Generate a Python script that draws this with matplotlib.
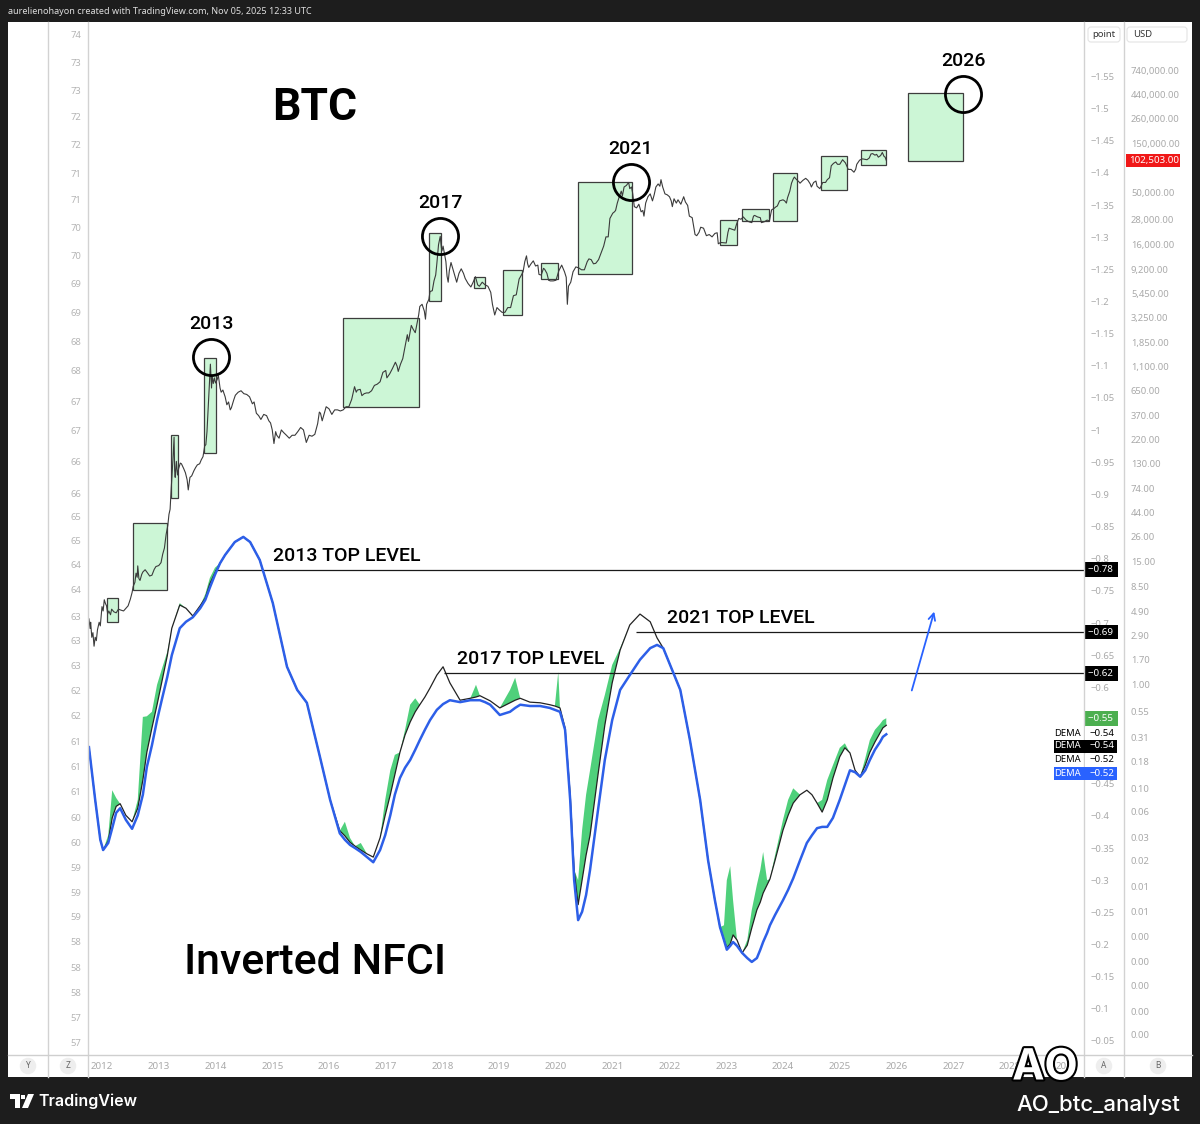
import matplotlib
matplotlib.use("Agg")
import matplotlib.pyplot as plt
import matplotlib.transforms as mtransforms
import matplotlib.patheffects as pe
from matplotlib.patches import Rectangle, FancyBboxPatch, Polygon
from matplotlib.lines import Line2D
from matplotlib.ticker import NullLocator
import numpy as np

plt.rcParams['font.family'] = ['Noto Sans', 'DejaVu Sans']

# ---------------- data ----------------
btc_dates = [
    2011.77, 2011.79, 2011.80, 2011.82, 2011.84, 2011.86, 2011.88, 2011.90, 2011.92, 2011.95, 2011.97,
    2012.00, 2012.02, 2012.04, 2012.06, 2012.08, 2012.10, 2012.12, 2012.15, 2012.17, 2012.21, 2012.25,
    2012.29, 2012.33, 2012.38, 2012.42, 2012.46, 2012.50, 2012.53, 2012.55, 2012.58, 2012.60, 2012.62,
    2012.63, 2012.65, 2012.67, 2012.70, 2012.72, 2012.76, 2012.80, 2012.84, 2012.88, 2012.92, 2012.95,
    2013.00, 2013.04, 2013.07, 2013.10, 2013.13, 2013.16, 2013.18, 2013.20, 2013.22, 2013.25, 2013.27,
    2013.28, 2013.29, 2013.31, 2013.33, 2013.35, 2013.38, 2013.40, 2013.44, 2013.47, 2013.50, 2013.52,
    2013.55, 2013.58, 2013.62, 2013.65, 2013.68, 2013.72, 2013.75, 2013.78, 2013.81, 2013.83, 2013.85,
    2013.87, 2013.89, 2013.91, 2013.93, 2013.94, 2013.96, 2013.98,
    2014.00, 2014.03, 2014.05, 2014.08, 2014.10, 2014.13, 2014.17, 2014.20, 2014.23, 2014.26, 2014.28,
    2014.32, 2014.35, 2014.40, 2014.45, 2014.50, 2014.55, 2014.60, 2014.65, 2014.68, 2014.72, 2014.76,
    2014.80, 2014.85, 2014.90, 2014.94, 2014.97,
    2015.00, 2015.03, 2015.06, 2015.08, 2015.12, 2015.16, 2015.20, 2015.25, 2015.30, 2015.35, 2015.40,
    2015.45, 2015.50, 2015.55, 2015.60, 2015.65, 2015.70, 2015.75, 2015.80, 2015.83, 2015.85, 2015.88,
    2015.90, 2015.95,
    2016.00, 2016.03, 2016.05, 2016.10, 2016.15, 2016.20, 2016.25, 2016.30, 2016.35, 2016.40, 2016.45,
    2016.48, 2016.50, 2016.55, 2016.58, 2016.62, 2016.66, 2016.70, 2016.75, 2016.80, 2016.85, 2016.90,
    2016.95,
    2017.00, 2017.02, 2017.07, 2017.12, 2017.17, 2017.20, 2017.22, 2017.26, 2017.30, 2017.34, 2017.38,
    2017.40, 2017.45, 2017.48, 2017.52, 2017.55, 2017.58, 2017.60, 2017.64, 2017.68, 2017.70, 2017.72,
    2017.76, 2017.78, 2017.82, 2017.85, 2017.88, 2017.90, 2017.93, 2017.96, 2017.98, 2017.99,
    2018.01, 2018.03, 2018.06, 2018.08, 2018.10, 2018.12, 2018.15, 2018.18, 2018.22, 2018.25, 2018.29,
    2018.33, 2018.37, 2018.40, 2018.45, 2018.50, 2018.54, 2018.58, 2018.62, 2018.65, 2018.70, 2018.75,
    2018.80, 2018.85, 2018.88, 2018.92, 2018.96,
    2019.00, 2019.05, 2019.10, 2019.15, 2019.20, 2019.25, 2019.30, 2019.35, 2019.38, 2019.42, 2019.45,
    2019.48, 2019.50, 2019.52, 2019.56, 2019.60, 2019.64, 2019.68, 2019.70, 2019.74, 2019.78, 2019.80,
    2019.84, 2019.87, 2019.90, 2019.95,
    2020.00, 2020.05, 2020.10, 2020.15, 2020.18, 2020.20, 2020.22, 2020.26, 2020.30, 2020.35, 2020.40,
    2020.45, 2020.50, 2020.55, 2020.58, 2020.62, 2020.66, 2020.70, 2020.75, 2020.80, 2020.84, 2020.88,
    2020.92, 2020.95,
    2021.00, 2021.03, 2021.05, 2021.08, 2021.12, 2021.15, 2021.17, 2021.20, 2021.24, 2021.28, 2021.30,
    2021.33, 2021.35, 2021.38, 2021.42, 2021.46, 2021.50, 2021.53, 2021.55, 2021.58, 2021.62, 2021.66,
    2021.70, 2021.73, 2021.76, 2021.80, 2021.83, 2021.85, 2021.88, 2021.92, 2021.96,
    2022.00, 2022.03, 2022.05, 2022.08, 2022.12, 2022.15, 2022.20, 2022.25, 2022.28, 2022.32, 2022.35,
    2022.40, 2022.45, 2022.48, 2022.52, 2022.55, 2022.60, 2022.65, 2022.70, 2022.75, 2022.80, 2022.84,
    2022.86, 2022.90, 2022.95,
    2023.00, 2023.03, 2023.05, 2023.10, 2023.15, 2023.18, 2023.22, 2023.26, 2023.30, 2023.35, 2023.40,
    2023.45, 2023.48, 2023.50, 2023.55, 2023.60, 2023.62, 2023.67, 2023.72, 2023.76, 2023.80, 2023.84,
    2023.88, 2023.90, 2023.94,
    2024.00, 2024.03, 2024.06, 2024.08, 2024.12, 2024.15, 2024.18, 2024.20, 2024.24, 2024.28, 2024.30,
    2024.35, 2024.40, 2024.44, 2024.48, 2024.50, 2024.54, 2024.58, 2024.60, 2024.65, 2024.70, 2024.75,
    2024.78, 2024.82, 2024.85, 2024.89, 2024.93, 2024.96,
    2025.00, 2025.05, 2025.10, 2025.15, 2025.20, 2025.25, 2025.28, 2025.30, 2025.35, 2025.40, 2025.44,
    2025.48, 2025.52, 2025.55, 2025.58, 2025.62, 2025.65, 2025.68, 2025.72, 2025.75, 2025.78, 2025.80,
    2025.82]
btc_prices = [
    4.2, 3.4, 3.9, 2.8, 3.1, 2.3, 2.8, 2.6, 3.3, 3.9, 3.6,
    5.5, 5.0, 6.4, 5.9, 5.6, 4.7, 5.0, 4.6, 5.2, 4.9, 4.8,
    5.2, 5.1, 5.0, 5.3, 5.6, 6.5, 7.5, 8.6, 9.4, 11.5, 10.5,
    13.5, 10.2, 9.8, 11.2, 11.8, 12.4, 11.6, 10.8, 11.0, 12.5, 13.3,
    13.6, 14.5, 17.5, 20, 27, 33, 42, 47, 75, 140, 230,
    110, 95, 135, 100, 115, 130, 128, 115, 105, 90, 72,
    95, 98, 110, 118, 125, 128, 140, 150, 190, 195, 260,
    420, 700, 1150, 680, 900, 750, 850,
    760, 820, 900, 680, 620, 650, 560, 470, 500, 420, 440,
    520, 580, 620, 640, 600, 590, 560, 480, 500, 390, 370,
    340, 380, 370, 330, 315,
    270, 200, 260, 240, 225, 270, 255, 240, 225, 240, 240,
    260, 285, 270, 205, 240, 235, 245, 310, 400, 390, 330,
    360, 450,
    430, 400, 380, 420, 420, 410, 420, 450, 450, 530, 700,
    620, 650, 660, 575, 600, 610, 610, 640, 720, 740, 780,
    960,
    1000, 850, 930, 1050, 1200, 1100, 980, 1150, 1300, 1700, 2200,
    1900, 2700, 2500, 2300, 2800, 3400, 4100, 4300, 3700, 3100, 4300,
    4800, 5700, 5800, 7200, 8200, 10500, 16000, 19200, 15000, 14000,
    15500, 13500, 11000, 8000, 7000, 9000, 10800, 9500, 8000, 7000, 8500,
    9400, 8500, 7600, 6800, 6300, 7000, 7900, 6600, 6400, 7000, 6600,
    6400, 5600, 4300, 3400, 4000,
    3800, 3600, 3600, 4000, 4000, 5200, 5300, 7500, 8000, 8800, 11000,
    12500, 10500, 9700, 10500, 11200, 10000, 10200, 8300, 8200, 9500, 9300,
    8500, 7300, 7200, 7200,
    7300, 9000, 10200, 8800, 7800, 4300, 6400, 7000, 8800, 9800, 9600,
    9200, 9200, 11000, 11700, 11500, 10500, 10600, 11500, 13600, 15500, 19000,
    19000, 28500,
    32000, 33000, 34000, 40000, 47000, 52000, 47000, 57000, 59000, 63000, 55000,
    57000, 50000, 37000, 36000, 39000, 33000, 34000, 30000, 40000, 46000, 49000,
    42000, 48000, 57000, 61000, 58000, 67000, 57000, 49000, 48000,
    46000, 42000, 37000, 44000, 40000, 43000, 39000, 46000, 41000, 38000, 30000,
    29000, 20000, 19500, 21000, 23500, 23000, 19500, 20000, 19000, 20500, 20800,
    16300, 16800, 16700,
    16600, 21000, 23000, 22500, 22000, 25000, 28500, 28000, 29500, 27500, 26500,
    26000, 30000, 30500, 29500, 29000, 26000, 26500, 27500, 27000, 34500, 35500,
    37000, 37500, 42000,
    43000, 42000, 40000, 45000, 52000, 62000, 68000, 71000, 67000, 64000, 62000,
    66000, 69000, 66000, 61000, 57000, 63000, 65000, 58000, 55000, 63000, 63000,
    67000, 70000, 91000, 96000, 99000, 94000,
    94000, 104000, 97000, 84000, 84000, 79000, 84000, 94000, 103000, 106000, 105000,
    104000, 108000, 118000, 119000, 115000, 117000, 110000, 114000, 122000, 112000, 110000,
    102503]
last_price = 102503.00

box_start = [2012.09, 2012.55, 2013.22, 2013.80, 2016.25, 2017.76, 2018.56, 2019.07, 2019.74, 2020.39,
             2022.89, 2023.28, 2023.82, 2024.67, 2025.37, 2026.20]
box_end = [2012.28, 2013.15, 2013.34, 2014.01, 2017.59, 2017.97, 2018.75, 2019.40, 2020.04, 2021.34,
           2023.19, 2023.75, 2024.25, 2025.13, 2025.82, 2027.17]
box_low = [3.92, 7.9, 60, 162, 448, 4620, 6150, 3400, 7510, 8380,
           15900, 27000, 27000, 53400, 92600, 101000]
box_high = [6.65, 34.7, 241, 1318, 3180, 20700, 7850, 9160, 10700, 63700,
            27600, 35100, 77600, 113000, 129000, 452000]

circle_dates = [2013.92, 2017.956, 2021.32, 2027.172]
circle_prices = [1346, 19370, 63700, 443000]
circle_labels = ["2013", "2017", "2021", "2026"]

nfci_dates = [2011.77, 2011.88, 2011.97, 2012.02, 2012.11, 2012.18, 2012.25, 2012.32, 2012.42, 2012.53,
              2012.63, 2012.72, 2012.79, 2012.88, 2012.97, 2013.06, 2013.15, 2013.23, 2013.37, 2013.48,
              2013.60, 2013.73, 2013.82, 2013.90, 2013.99, 2014.08, 2014.17, 2014.34, 2014.49, 2014.61,
              2014.78, 2015.01, 2015.26, 2015.44, 2015.61, 2015.84, 2016.02, 2016.19, 2016.28, 2016.37,
              2016.46, 2016.56, 2016.67, 2016.78, 2016.90, 2016.99, 2017.08, 2017.16, 2017.25, 2017.34,
              2017.43, 2017.52, 2017.60, 2017.69, 2017.78, 2017.90, 2018.01, 2018.13, 2018.31, 2018.49,
              2018.59, 2018.66, 2018.75, 2018.84, 2019.01, 2019.19, 2019.28, 2019.37, 2019.54, 2019.72,
              2019.89, 2019.98, 2020.04, 2020.07, 2020.16, 2020.25, 2020.32, 2020.39, 2020.46, 2020.53,
              2020.60, 2020.67, 2020.74, 2020.86, 2020.99, 2021.13, 2021.30, 2021.48, 2021.66, 2021.78,
              2021.89, 2022.01, 2022.19, 2022.36, 2022.54, 2022.68, 2022.80, 2022.89, 2022.96, 2023.01,
              2023.07, 2023.12, 2023.19, 2023.28, 2023.37, 2023.45, 2023.54, 2023.60, 2023.65, 2023.72,
              2023.77, 2023.86, 2024.00, 2024.09, 2024.18, 2024.30, 2024.42, 2024.51, 2024.60, 2024.69,
              2024.78, 2024.88, 2025.00, 2025.09, 2025.18, 2025.27, 2025.36, 2025.45, 2025.53, 2025.62,
              2025.71, 2025.76, 2025.82]
dema_slow = [-0.507, -0.425, -0.363, -0.347, -0.358, -0.381, -0.405, -0.412, -0.394, -0.380,
             -0.401, -0.433, -0.476, -0.510, -0.549, -0.583, -0.616, -0.650, -0.692, -0.702,
             -0.709, -0.723, -0.736, -0.755, -0.775, -0.793, -0.806, -0.826, -0.834, -0.826,
             -0.798, -0.731, -0.632, -0.596, -0.576, -0.492, -0.425, -0.373, -0.363, -0.355,
             -0.350, -0.344, -0.336, -0.328, -0.347, -0.370, -0.401, -0.433, -0.459, -0.475,
             -0.487, -0.503, -0.518, -0.534, -0.549, -0.565, -0.574, -0.580, -0.577, -0.580,
             -0.580, -0.580, -0.577, -0.573, -0.557, -0.562, -0.568, -0.573, -0.571, -0.571,
             -0.568, -0.565, -0.563, -0.562, -0.534, -0.425, -0.300, -0.238, -0.251, -0.277,
             -0.316, -0.363, -0.409, -0.487, -0.549, -0.596, -0.619, -0.643, -0.661, -0.666,
             -0.661, -0.635, -0.596, -0.518, -0.425, -0.331, -0.269, -0.227, -0.207, -0.192,
             -0.198, -0.204, -0.198, -0.187, -0.179, -0.173, -0.179, -0.192, -0.204, -0.218,
             -0.230, -0.246, -0.269, -0.285, -0.303, -0.331, -0.358, -0.370, -0.381, -0.383,
             -0.383, -0.397, -0.425, -0.448, -0.471, -0.468, -0.461, -0.471, -0.487, -0.503,
             -0.515, -0.523, -0.527]
dema_fast = [-0.507, -0.425, -0.363, -0.347, -0.361, -0.397, -0.415, -0.419, -0.401, -0.391,
             -0.412, -0.456, -0.499, -0.537, -0.573, -0.611, -0.649, -0.692, -0.728, -0.723,
             -0.711, -0.727, -0.739, -0.761, -0.778, -0.793, -0.806, -0.826, -0.834, -0.826,
             -0.798, -0.731, -0.632, -0.596, -0.576, -0.492, -0.425, -0.377, -0.369, -0.359,
             -0.353, -0.347, -0.341, -0.336, -0.366, -0.401, -0.433, -0.464, -0.499, -0.526,
             -0.546, -0.562, -0.573, -0.585, -0.599, -0.619, -0.632, -0.607, -0.580, -0.583,
             -0.585, -0.587, -0.583, -0.579, -0.568, -0.576, -0.580, -0.583, -0.577, -0.576,
             -0.573, -0.571, -0.569, -0.568, -0.537, -0.433, -0.316, -0.262, -0.300, -0.339,
             -0.370, -0.417, -0.464, -0.541, -0.607, -0.658, -0.697, -0.714, -0.702, -0.677,
             -0.661, -0.635, -0.596, -0.518, -0.425, -0.331, -0.269, -0.227, -0.207, -0.195,
             -0.201, -0.215, -0.207, -0.187, -0.199, -0.226, -0.254, -0.266, -0.280, -0.293,
             -0.302, -0.331, -0.378, -0.401, -0.420, -0.433, -0.440, -0.433, -0.420, -0.406,
             -0.425, -0.459, -0.492, -0.506, -0.498, -0.471, -0.461, -0.479, -0.499, -0.515,
             -0.529, -0.537, -0.541]
nfci_fill_top = [-0.507, -0.425, -0.363, -0.347, -0.370, -0.440, -0.428, -0.419, -0.401, -0.391,
                 -0.425, -0.554, -0.555, -0.562, -0.604, -0.630, -0.655, -0.692, -0.731, -0.723,
                 -0.711, -0.727, -0.745, -0.770, -0.786, -0.793, -0.806, -0.826, -0.834, -0.826,
                 -0.798, -0.731, -0.632, -0.596, -0.576, -0.492, -0.425, -0.377, -0.391, -0.366,
                 -0.353, -0.358, -0.341, -0.336, -0.366, -0.425, -0.471, -0.495, -0.499, -0.534,
                 -0.573, -0.583, -0.573, -0.585, -0.599, -0.619, -0.632, -0.607, -0.580, -0.583,
                 -0.604, -0.587, -0.583, -0.579, -0.568, -0.596, -0.615, -0.583, -0.577, -0.576,
                 -0.573, -0.571, -0.624, -0.568, -0.537, -0.433, -0.316, -0.300, -0.378, -0.433,
                 -0.471, -0.510, -0.549, -0.588, -0.635, -0.661, -0.697, -0.714, -0.702, -0.677,
                 -0.661, -0.635, -0.596, -0.518, -0.425, -0.331, -0.269, -0.227, -0.230, -0.300,
                 -0.322, -0.269, -0.207, -0.187, -0.207, -0.254, -0.293, -0.316, -0.344, -0.300,
                 -0.302, -0.339, -0.394, -0.425, -0.443, -0.433, -0.440, -0.433, -0.420, -0.425,
                 -0.456, -0.479, -0.506, -0.513, -0.498, -0.471, -0.461, -0.490, -0.518, -0.534,
                 -0.543, -0.549, -0.552]

level_values = [-0.783, -0.686, -0.622]
level_starts = [2013.99, 2021.41, 2018.03]
level_names = ["2013 TOP LEVEL", "2021 TOP LEVEL", "2017 TOP LEVEL"]
level_tags = ["\u22120.78", "\u22120.69", "\u22120.62"]

dema_tag_values = ["\u22120.54", "\u22120.54", "\u22120.52", "\u22120.52"]

year_ticks = list(range(2012, 2030))
nfci_ticks = [-1.55, -1.5, -1.45, -1.4, -1.35, -1.3, -1.25, -1.2, -1.15, -1.1, -1.05, -1.0,
              -0.95, -0.9, -0.85, -0.8, -0.75, -0.7, -0.65, -0.6, -0.45, -0.4, -0.35, -0.3,
              -0.25, -0.2, -0.15, -0.1, -0.05]
usd_ticks = [740000, 440000, 260000, 150000, 50000, 28000, 16000, 9200, 5450, 3250, 1850, 1100,
             650, 370, 220, 130, 74, 44, 26, 15, 8.5, 4.9, 2.9, 1.7, 1.0, 0.55, 0.31, 0.18, 0.10,
             0.06, 0.034, 0.0203, 0.0116, 0.0067, 0.0038, 0.0022, 0.0013, 0.00074, 0.00044]
left_ticks = [74.00, 73.53, 73.07, 72.62, 72.15, 71.67, 71.22, 70.76, 70.29, 69.82, 69.32, 68.83,
              68.34, 67.83, 67.33, 66.81, 66.28, 65.88, 65.49, 65.07, 64.65, 64.21, 63.79, 63.37,
              62.95, 62.53, 62.10, 61.68, 61.25, 60.82, 60.40, 59.98, 59.56, 59.14, 58.72, 58.28,
              57.86, 57.44, 57.02]
left_labels = ["74", "73", "73", "72", "72", "71", "71", "70", "70", "69", "69", "68", "68", "67",
               "67", "66", "66", "65", "65", "64", "64", "63", "63", "63", "62", "62", "61", "61",
               "61", "60", "60", "59", "59", "59", "58", "58", "58", "57", "57"]

# ---------------- figure ----------------
W, H = 1200, 1124
fig = plt.figure(figsize=(W / 100, H / 100), dpi=100)
fig.patch.set_facecolor('#1d1d1d')
PX = mtransforms.Affine2D().scale(1.0 / W, -1.0 / H).translate(0, 1) + fig.transFigure

GREY = '#a9a9a9'
fig.add_artist(Rectangle((8, 22), 1184, 1055, transform=PX, fc='white', ec='none', zorder=-5))

L, R, T, B = 88, 1084, 22, 1055
ax = fig.add_axes([L / W, 1 - B / H, (R - L) / W, (B - T) / H])
ax.set_facecolor('none')
for s in ax.spines.values():
    s.set_visible(False)
x0 = 2012 + (L - 102) / 56.75
x1 = 2012 + (R - 102) / 56.75
ax.set_xlim(x0, x1)
ax.set_yscale('log')
ax.set_ylim(10 ** ((684 - B) / 104.5), 10 ** ((684 - T) / 104.5))

ax_n = ax.twinx()
ax_n.set_facecolor('none')
for s in ax_n.spines.values():
    s.set_visible(False)
ax_n.set_ylim(-(0.05 + (1041 - B) / 643), -(0.05 + (1041 - T) / 643))

ax_l = ax.twinx()
ax_l.set_facecolor('none')
for s in ax_l.spines.values():
    s.set_visible(False)
ax_l.set_ylim(74 - (B - 35) / 59.35, 74 - (T - 35) / 59.35)
ax_l.yaxis.tick_left()
ax_l.set_yticks(left_ticks, labels=left_labels)
ax_l.tick_params(axis='y', length=0, pad=5, labelsize=6.8, labelcolor='#b5b5b5')

# x axis
ax.set_xticks(year_ticks, labels=[str(y) for y in year_ticks])
ax.tick_params(axis='x', length=0, pad=5, labelsize=7, labelcolor=GREY)

# price axis on the USD column (40 px to the right of the point column)
ax.yaxis.tick_right()
ax.spines['right'].set_position(('outward', 40 * 0.72))
ax.set_yticks(usd_ticks, labels=[f"{v:,.2f}" for v in usd_ticks])
ax.yaxis.set_minor_locator(NullLocator())
ax.tick_params(axis='y', which='both', length=0, pad=5, labelsize=6.8, labelcolor=GREY)

# point axis
ax_n.set_yticks(nfci_ticks, labels=["\u2212" + f"{abs(v):g}" for v in nfci_ticks])
ax_n.tick_params(axis='y', length=0, pad=5, labelsize=6.8, labelcolor=GREY)

# ---- BTC ----
for xs, xe, lo, hi in zip(box_start, box_end, box_low, box_high):
    ax.fill([xs, xe, xe, xs], [lo, lo, hi, hi], fc='#ccf6d6', ec='#3d3d3d', lw=0.9, zorder=1)
ax.plot(btc_dates, btc_prices, color='#3b3b3b', lw=0.8, zorder=2)
ax.plot(circle_dates, circle_prices, 'o', ms=26, mfc='none', mec='black', mew=2.0, zorder=3)
for d, p, lab in zip(circle_dates, circle_prices, circle_labels):
    ax.annotate(lab, (d, p), xytext=(0, 28), textcoords='offset pixels', ha='center', va='baseline',
                fontsize=14, family=['Roboto', 'DejaVu Sans'], fontweight='medium', color='black')

# ---- NFCI ----
nd = np.array(nfci_dates)
fast = np.array(dema_fast)
top = np.array(nfci_fill_top)
ax_n.fill_between(nd, fast, top, where=top < fast, interpolate=True, color='#4fd07b', lw=0, zorder=2)
ax_n.plot(nd, fast, color='#222222', lw=0.9, zorder=3)
ax_n.plot(nd, dema_slow, color='#2d5fe8', lw=1.8, zorder=4)

ax_n.hlines(level_values, level_starts, x1, colors='#1a1a1a', lw=0.9, zorder=3)
level_label_x = [2016.32, 2023.26, 2019.56]
for lx, v, name in zip(level_label_x, level_values, level_names):
    ax_n.annotate(name, (lx, v), xytext=(0, 9), textcoords='offset pixels', ha='center', va='baseline',
                  fontsize=14, family=['Roboto', 'DejaVu Sans'], fontweight='medium', color='black')

ax_n.annotate('', xy=(2026.678, -0.722), xytext=(2026.256, -0.591),
              arrowprops=dict(arrowstyle='->', color='#2962ff', lw=1.3, mutation_scale=12))

blend_n = mtransforms.blended_transform_factory(ax_n.transAxes, ax_n.transData)
for v, tg in zip(level_values, level_tags):
    ax_n.annotate(tg + ' ', (1.0, v), xycoords=blend_n, xytext=(4, 0), textcoords='offset pixels',
                  ha='left', va='center', fontsize=7, color='white',
                  bbox=dict(boxstyle='square,pad=0.3', fc='black', ec='none'),
                  annotation_clip=False, zorder=10)
ax_n.annotate("\u2212" + f"{abs(nfci_fill_top[-1]):.2f}" + ' ', (1.0, nfci_fill_top[-1]), xycoords=blend_n,
              xytext=(4, 0), textcoords='offset pixels', ha='left', va='center', fontsize=7,
              color='white', bbox=dict(boxstyle='square,pad=0.3', fc='#4caf50', ec='none'),
              annotation_clip=False, zorder=10)

# DEMA stacked labels
rows = [733, 746, 760, 773]
styles = [(None, 'black'), ('black', 'white'), (None, 'black'), ('#2962ff', 'white')]
for y, (bg, fg), val in zip(rows, styles, dema_tag_values):
    if bg is not None:
        fig.add_artist(Rectangle((1054, y - 6.5), 63, 13, transform=PX, fc=bg, ec='none', zorder=20))
    else:
        fig.add_artist(Rectangle((1085, y - 6.5), 32, 13, transform=PX, fc='white', ec='none', zorder=20))
    fig.text(1081, y, 'DEMA', transform=PX, ha='right', va='center', fontsize=6.8, color=fg, zorder=21)
    fig.text(1089, y, val, transform=PX, ha='left', va='center', fontsize=7, color=fg, zorder=21)

# price tag
py = H - ax.transData.transform((2020, last_price))[1]
fig.add_artist(Rectangle((1126, py - 6.5), 54, 13, transform=PX, fc='#f01818', ec='none', zorder=20))
fig.text(1129, py, f"{last_price:,.2f}", transform=PX, ha='left', va='center', fontsize=7,
         color='white', zorder=21)

# big titles
fig.text(315, 108, 'BTC', transform=PX, ha='center', va='center', fontsize=32,
         family=['Roboto', 'DejaVu Sans'], fontweight='bold', color='black')
fig.text(315, 963, 'Inverted NFCI', transform=PX, ha='center', va='center', fontsize=31,
         family=['Roboto', 'DejaVu Sans'], fontweight='medium', color='black')

# separators
for xv in (48, 88, 1084, 1124):
    fig.add_artist(Line2D([xv, xv], [22, 1077], transform=PX, color='#d2d2d2', lw=1, zorder=15))
fig.add_artist(Line2D([8, 1192], [1055, 1055], transform=PX, color='#cfcfcf', lw=1, zorder=15))

# column headers
fig.add_artist(FancyBboxPatch((1088, 27), 32, 15, boxstyle='round,pad=0,rounding_size=3', transform=PX,
                              fc='white', ec='#e4e4e4', lw=0.8, zorder=16))
fig.text(1104, 34.5, 'point', transform=PX, ha='center', va='center', fontsize=6.8, color='#333333', zorder=17)
fig.add_artist(FancyBboxPatch((1127, 27), 60, 15, boxstyle='round,pad=0,rounding_size=3', transform=PX,
                              fc='white', ec='#e4e4e4', lw=0.8, zorder=16))
fig.text(1133, 34.5, 'USD', transform=PX, ha='left', va='center', fontsize=6.8, color='#333333', zorder=17)

# bottom buttons
for bx, letter in ((28, 'Y'), (68, 'Z'), (1104, 'A'), (1158, 'B')):
    fig.text(bx, 1066, letter, transform=PX, ha='center', va='center', fontsize=6, color='#666666',
             bbox=dict(boxstyle='circle,pad=0.45', fc='#eeeeee', ec='none'), zorder=17)

# header / footer
fig.text(8, 12, 'aurelienohayon created with TradingView.com, Nov 05, 2025 12:33 UTC', transform=PX,
         ha='left', va='center', fontsize=6.5, color='#dddddd')
fig.add_artist(Polygon([(10, 1094), (20, 1094), (20, 1108), (15, 1108), (15, 1099), (10, 1099)],
                       closed=True, transform=PX, fc='white', ec='none'))
fig.add_artist(Polygon([(21, 1095), (25, 1095), (25, 1099), (21, 1099)], closed=True, transform=PX,
                       fc='white', ec='none'))
fig.add_artist(Polygon([(28, 1094), (34, 1094), (28, 1108), (22, 1108)], closed=True, transform=PX,
                       fc='white', ec='none'))
fig.text(38, 1101, 'TradingView', transform=PX, ha='left', va='center', fontsize=11.5,
         family=['Inter', 'DejaVu Sans'], fontweight='semibold', color='white')
fig.text(1180, 1105, 'AO_btc_analyst', transform=PX, ha='right', va='center', fontsize=16,
         family=['Inter', 'DejaVu Sans'], fontweight='medium', color='white')
fig.text(1045, 1068, 'AO', transform=PX, ha='center', va='center', fontsize=31,
         family=['Inter', 'DejaVu Sans'], fontweight='bold', color='white', zorder=30,
         path_effects=[pe.Stroke(linewidth=3, foreground='black'), pe.Normal()])

fig.savefig('out.png', dpi=100, facecolor=fig.get_facecolor())
